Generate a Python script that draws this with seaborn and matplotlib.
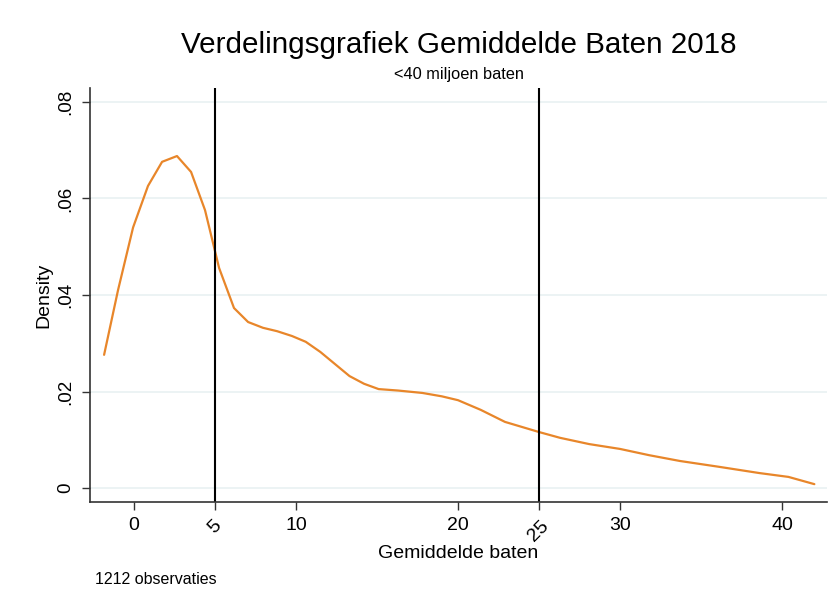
import matplotlib
matplotlib.use("Agg")
import matplotlib.pyplot as plt
import seaborn as sns
import pandas as pd

# kernel density estimate
baten = [-1.85, -0.99, -0.06, 0.86, 1.73, 2.65, 3.52, 4.38, 5.25, 6.17, 7.04,
         7.96, 8.83, 9.75, 10.6, 11.5, 12.4, 13.3, 14.2, 15.1, 16.3, 17.8,
         19.0, 20.0, 21.4, 22.9, 25.0, 26.3, 28.1, 30.0, 31.8, 33.7, 36.1,
         38.6, 40.4, 42.0]
density = [0.0276, 0.0410, 0.0540, 0.0626, 0.0676, 0.0688, 0.0655, 0.0576,
           0.0456, 0.0373, 0.0344, 0.0332, 0.0325, 0.0315, 0.0303, 0.0282,
           0.0257, 0.0232, 0.0216, 0.0205, 0.0202, 0.0197, 0.0190, 0.0182,
           0.0162, 0.0137, 0.0116, 0.0104, 0.0091, 0.0081, 0.0068, 0.0056,
           0.0044, 0.0031, 0.0023, 0.0008]
lijnen = [5, 25]
xticks = [0, 5, 10, 20, 25, 30, 40]
yticks = [0, 0.02, 0.04, 0.06, 0.08]
ylabels = ["0", ".02", ".04", ".06", ".08"]

df = pd.DataFrame({"baten": baten, "density": density})

sns.set_style("white")
plt.rcParams["font.family"] = ["Liberation Sans", "DejaVu Sans"]
plt.rcParams["text.color"] = "black"
plt.rcParams["axes.labelcolor"] = "black"
plt.rcParams["xtick.color"] = "black"
plt.rcParams["ytick.color"] = "black"

fig = plt.figure(figsize=(8.36, 6.14), dpi=100)
ax = fig.add_axes([90 / 836, 1 - 502 / 614, (827 - 90) / 836, (502 - 88) / 614])

for y in yticks:
    ax.axhline(y, color="#e9f1f2", lw=1.2, zorder=0)

sns.lineplot(data=df, x="baten", y="density", color="#e8862a", lw=1.6, ax=ax)
for x in lijnen:
    ax.axvline(x, color="black", lw=1.5)

ax.set_xlim(-2.72, 42.78)
ax.set_ylim(-0.0029, 0.0829)
ax.set_xticks(xticks)
ax.set_xticklabels([str(t) for t in xticks], fontsize=14)
for lab, t in zip(ax.get_xticklabels(), xticks):
    if t in lijnen:
        lab.set_rotation(45)
        lab.set_ha("center")
ax.set_yticks(yticks)
ax.set_yticklabels(ylabels, fontsize=13.5, rotation=90, va="center")
ax.tick_params(axis="both", direction="out", length=6, width=1, color="#333333",
               bottom=True, left=True, pad=5)

for s in ["top", "right"]:
    ax.spines[s].set_visible(False)
for s in ["left", "bottom"]:
    ax.spines[s].set_color("#333333")
    ax.spines[s].set_linewidth(1.2)

ax.set_xlabel("Gemiddelde baten", fontsize=14, labelpad=0)
ax.set_ylabel("Density", fontsize=14, labelpad=4)

fig.text(458.5 / 836, 1 - 45 / 614, "Verdelingsgrafiek Gemiddelde Baten 2018",
         fontsize=21.3, ha="center", va="center")
fig.text(458.5 / 836, 1 - 75 / 614, "<40 miljoen baten", fontsize=11.8,
         ha="center", va="center")
fig.text(95 / 836, 1 - 580 / 614, "1212 observaties", fontsize=11.5,
         ha="left", va="center")

fig.savefig("out.png", dpi=100)
